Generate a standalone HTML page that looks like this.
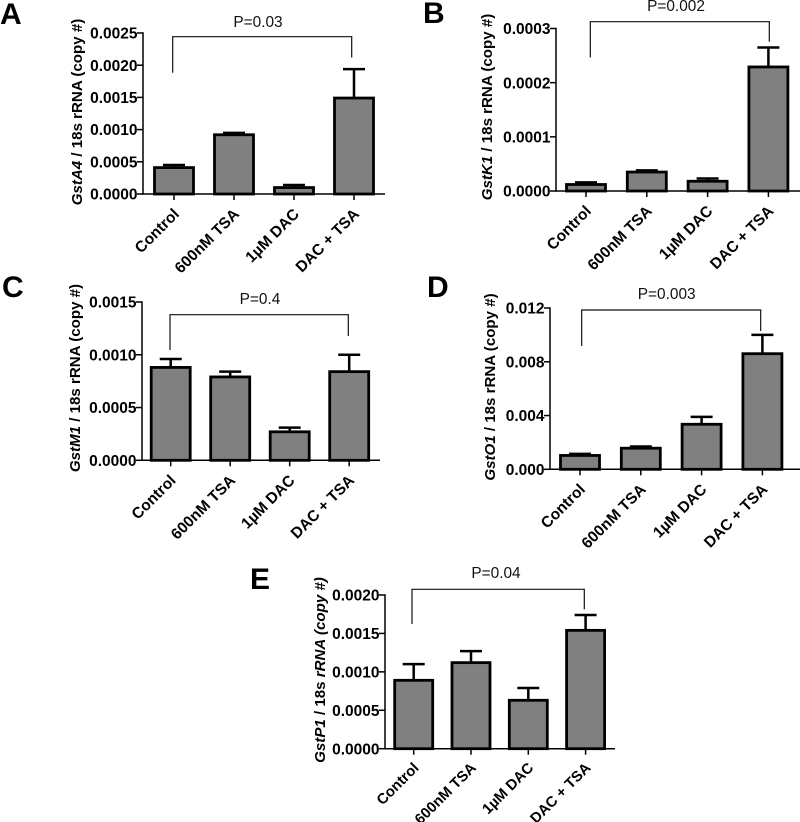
<!DOCTYPE html>
<html lang="en">
<head>
<meta charset="utf-8">
<title>Gst expression panels</title>
<style>
html,body{margin:0;padding:0;background:#fff;}
svg{display:block;font-family:"Liberation Sans",sans-serif;}
</style>
</head>
<body>
<svg id="figure" width="800" height="822" viewBox="0 0 800 822" xmlns="http://www.w3.org/2000/svg"></svg>
<script>
const categories = ["Control", "600nM TSA", "1\u00B5M DAC", "DAC + TSA"];

const valuesA = [0.00041, 0.00092, 0.00010, 0.00149];
const errorTopsA = [0.00045, 0.00095, 0.00014, 0.00194];
const ticksA = ["0.0000", "0.0005", "0.0010", "0.0015", "0.0020", "0.0025"];

const valuesB = [0.000012, 0.000035, 0.000018, 0.000229];
const errorTopsB = [0.000016, 0.000038, 0.000023, 0.000265];
const ticksB = ["0.0000", "0.0001", "0.0002", "0.0003"];

const valuesC = [0.00088, 0.00079, 0.00027, 0.00084];
const errorTopsC = [0.00096, 0.00084, 0.00031, 0.00100];
const ticksC = ["0.0000", "0.0005", "0.0010", "0.0015"];

const valuesD = [0.00103, 0.00157, 0.00335, 0.00860];
const errorTopsD = [0.00115, 0.00170, 0.00390, 0.01000];
const ticksD = ["0.000", "0.004", "0.008", "0.012"];

const valuesE = [0.00089, 0.00112, 0.00063, 0.00154];
const errorTopsE = [0.00110, 0.00127, 0.00079, 0.00174];
const ticksE = ["0.0000", "0.0005", "0.0010", "0.0015", "0.0020"];

const panels = [
  {id:"a", letter:"A", lx:0, ly:24, values:valuesA, tops:errorTopsA, ticks:ticksA, p:"P=0.03",
   ax:143, y0:194, yTop:33, xEnd:385, first:174, step:60, barW:39, catSize:15.5, catDy:21,
   br:{x1:172.7, x2:351.7, top:36.7, b1:72.7, b2:57.5}, px:258, py:27,
   tx:82, ty:112, title:[["GstA4",1],[" / 18s rRNA (copy #)",0]]},
  {id:"b", letter:"B", lx:423, ly:23, values:valuesB, tops:errorTopsB, ticks:ticksB, p:"P=0.002",
   ax:556, y0:191, yTop:28.5, xEnd:800, first:586, step:60.8, barW:39, catSize:15.5, catDy:21,
   br:{x1:590.3, x2:769.3, top:21.7, b1:57.5, b2:41.7}, px:676, py:11,
   tx:492, ty:107, title:[["GstK1",1],[" / 18s rRNA (copy #)",0]]},
  {id:"c", letter:"C", lx:2, ly:297, values:valuesC, tops:errorTopsC, ticks:ticksC, p:"P=0.4",
   ax:142, y0:460.3, yTop:302, xEnd:380, first:170.7, step:59.5, barW:39, catSize:15.5, catDy:21,
   br:{x1:170, x2:348.3, top:314.7, b1:350, b2:336}, px:260, py:304,
   tx:80, ty:378, title:[["GstM1",1],[" / 18s rRNA (copy #)",0]]},
  {id:"d", letter:"D", lx:427, ly:297, values:valuesD, tops:errorTopsD, ticks:ticksD, p:"P=0.003",
   ax:550, y0:469.3, yTop:308, xEnd:800, first:580, step:60.8, barW:39, catSize:15.5, catDy:21,
   br:{x1:581.7, x2:760.7, top:310, b1:346, b2:331}, px:666.7, py:299,
   tx:495, ty:387, title:[["GstO1",1],[" / 18s rRNA (copy #)",0]]},
  {id:"e", letter:"E", lx:250, ly:589, values:valuesE, tops:errorTopsE, ticks:ticksE, p:"P=0.04",
   ax:385, y0:748.7, yTop:595, xEnd:615, first:413.7, step:57.3, barW:38, catSize:14.8, catDy:20,
   br:{x1:412, x2:584.3, top:589.3, b1:624, b2:609.3}, px:496, py:578,
   tx:325, ty:670, title:[["GstP1",1],[" / 18s ",0],["rRNA (copy #)",1]]}
];

const NS = "http://www.w3.org/2000/svg";
const root = document.getElementById("figure");

function make(parent, tag, attrs, text) {
  const el = document.createElementNS(NS, tag);
  for (const k in attrs) el.setAttribute(k, attrs[k]);
  if (text !== undefined) el.textContent = text;
  parent.appendChild(el);
  return el;
}

panels.forEach(function (p) {
  const yMax = parseFloat(p.ticks[p.ticks.length - 1]);
  const yScale = function (v) { return p.y0 - (v / yMax) * (p.y0 - p.yTop); };
  const xScale = function (i) { return p.first + i * p.step; };

  const g = make(root, "g", {});
  
  

  const letter = make(g, "text", {x:p.lx, y:p.ly, "font-size":30, "font-weight":"bold", fill:"#000"}, p.letter);
  
  

  // error bars sit behind the bars
  p.values.forEach(function (v, i) {
    const cx = xScale(i);
    const err = make(g, "path", {
      d: "M" + cx + " " + yScale(v) + "V" + yScale(p.tops[i]) + "M" + (cx - 11) + " " + yScale(p.tops[i]) + "H" + (cx + 11),
      fill: "none", stroke: "#000", "stroke-width": 2.5
    });
    
    
  });

  p.values.forEach(function (v, i) {
    const cx = xScale(i);
    const bar = make(g, "rect", {
      x: cx - p.barW / 2, y: yScale(v), width: p.barW, height: p.y0 - yScale(v),
      fill: "#808080", stroke: "#000", "stroke-width": 2.8
    });
    
    
  });

  const yAxis = make(g, "line", {x1:p.ax, x2:p.ax, y1:p.yTop - 0.7, y2:p.y0 + 0.7, stroke:"#000", "stroke-width":1.5});
  
  

  const xAxis = make(g, "line", {x1:p.ax, x2:p.xEnd, y1:p.y0, y2:p.y0, stroke:"#000", "stroke-width":1.5});
  
  

  p.ticks.forEach(function (t) {
    const y = yScale(parseFloat(t));
    const tick = make(g, "line", {x1:p.ax - 6, x2:p.ax, y1:y, y2:y, stroke:"#000", "stroke-width":1.5});
    
    
    const label = make(g, "text", {x:p.ax - 5.5, y:y + 5.6, "font-size":15.5, "font-weight":"bold", "text-anchor":"end", fill:"#000"}, t);
    
    
  });

  categories.forEach(function (c, i) {
    const cx = xScale(i);
    const tick = make(g, "line", {x1:cx, x2:cx, y1:p.y0, y2:p.y0 + 6, stroke:"#000", "stroke-width":1.5});
    
    
    const lx = cx + 6, ly = p.y0 + p.catDy;
    const label = make(g, "text", {
      x: lx, y: ly, "font-size": p.catSize, "font-weight": "bold", "text-anchor": "end", fill: "#000",
      transform: "rotate(-45 " + lx + " " + ly + ")"
    }, c);
    
    
  });

  const title = make(g, "text", {
    x: p.tx, y: p.ty, "font-size": 15.1, "font-weight": "bold", "text-anchor": "middle", fill: "#000",
    transform: "rotate(-90 " + p.tx + " " + p.ty + ")"
  });
  
  
  title.style.whiteSpace = "pre";
  p.title.forEach(function (part) {
    make(title, "tspan", part[1] ? {"font-style":"italic"} : {}, part[0]);
  });

  const bracket = make(g, "path", {
    d: "M" + p.br.x1 + " " + p.br.b1 + "V" + p.br.top + "H" + p.br.x2 + "V" + p.br.b2,
    fill: "none", stroke: "#111", "stroke-width": 1.2
  });
  
  

  const pLabel = make(g, "text", {x:p.px, y:p.py, "font-size":15.4, "text-anchor":"middle", fill:"#111"}, p.p);
  
  
});
</script>
</body>
</html>
